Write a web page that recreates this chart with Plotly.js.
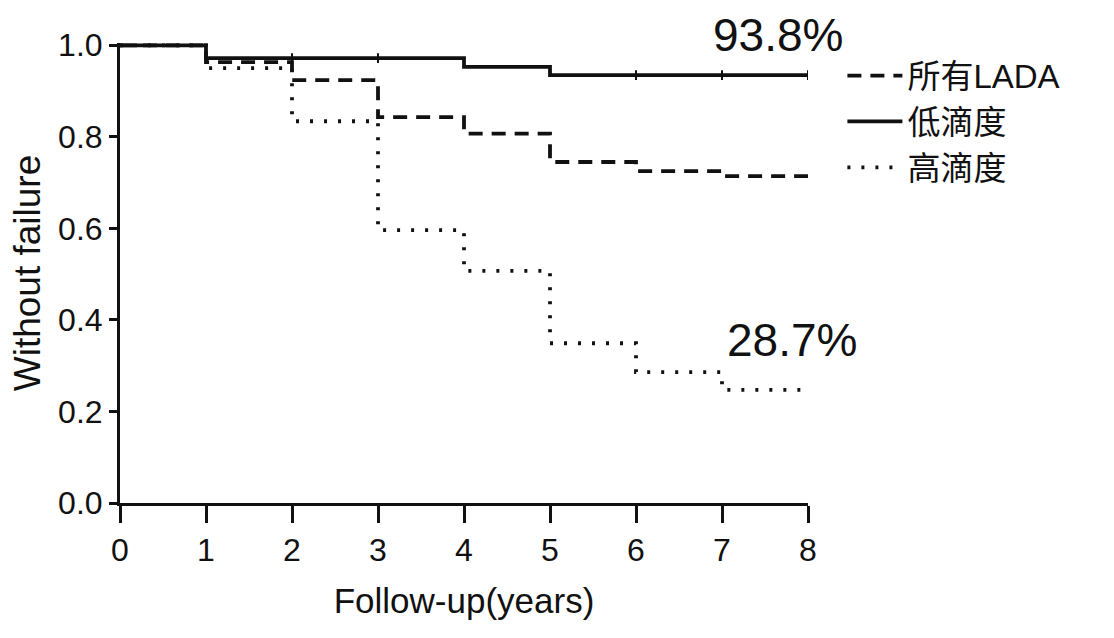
<!DOCTYPE html>
<html><head><meta charset="utf-8">
<script src="https://cdn.plot.ly/plotly-3.0.1.min.js"></script>
<style>body{margin:0;background:#fff}#c{width:1114px;height:638px}</style>
</head><body><div id="c"></div>
<script>
var years = [0, 1, 2, 3, 4, 5, 6, 7, 8];
var allLada = [1.0, 0.963, 0.924, 0.843, 0.807, 0.745, 0.725, 0.714, 0.714];
var lowTiter = [1.0, 0.972, 0.972, 0.972, 0.953, 0.935, 0.935, 0.935, 0.935];
var highTiter = [1.0, 0.950, 0.834, 0.596, 0.507, 0.349, 0.286, 0.247, 0.247];
var seriesNames = ["所有LADA", "低滴度", "高滴度"];
var lowCensor = [2, 3, 6, 7, 8];
var lowCensorVal = [0.972, 0.972, 0.935, 0.935, 0.935];
var labelText = ["93.8%", "28.7%"];
var xTicks = [0, 1, 2, 3, 4, 5, 6, 7, 8];
var yTicks = [0, 0.2, 0.4, 0.6, 0.8, 1.0];
var yTickText = ["0.0", "0.2", "0.4", "0.6", "0.8", "1.0"];

var latin = "Liberation Sans, Arial, sans-serif";
var traces = [
  {x: years, y: allLada, name: seriesNames[0], mode: "lines", line: {shape: "hv", color: "#111", width: 3.8, dash: "14px,9px"}},
  {x: years, y: lowTiter, name: seriesNames[1], mode: "lines", line: {shape: "hv", color: "#111", width: 3.8}},
  {x: years, y: highTiter, name: seriesNames[2], mode: "lines", line: {shape: "hv", color: "#111", width: 3.8, dash: "3px,11px"}},
  {x: lowCensor, y: lowCensorVal, mode: "markers", showlegend: false, hoverinfo: "skip",
   marker: {symbol: "line-ns", size: 7, line: {width: 2, color: "#111"}}}
];
var anns = [
  {x: 7.65, y: 1.017, xref: "x", yref: "paper", yanchor: "middle", xanchor: "center", text: labelText[0], showarrow: false,
   font: {family: latin, size: 46, color: "#111"}},
  {x: 7.81, y: 0.356, xref: "x", yref: "y", yanchor: "middle", xanchor: "center", text: labelText[1], showarrow: false,
   font: {family: latin, size: 46, color: "#111"}}
];
var layout = {
  width: 1114, height: 638,
  margin: {l: 120, r: 306, t: 43, b: 135},
  paper_bgcolor: "#fff", plot_bgcolor: "#fff",
  showlegend: true,
  legend: {x: 1.05, y: 0.99, xanchor: "left", yanchor: "top", itemwidth: 55,
    font: {family: "Liberation Sans, Noto Sans CJK SC, sans-serif", size: 33, color: "#111"}, bgcolor: "rgba(0,0,0,0)",
    tracegroupgap: 0},
  xaxis: {range: [0, 8], tickvals: xTicks, showgrid: false, zeroline: false,
    showline: true, linewidth: 3, linecolor: "#111", ticks: "outside", ticklen: 17, tickwidth: 3, tickcolor: "#111",
    tickfont: {family: latin, size: 32, color: "#111"},
    title: {text: "Follow-up(years)", font: {family: latin, size: 35, color: "#111"}, standoff: 22}},
  yaxis: {range: [0, 1.005], tickvals: yTicks, ticktext: yTickText, showgrid: false, zeroline: false,
    showline: true, linewidth: 3, linecolor: "#111", ticks: "outside", ticklen: 8, tickwidth: 3, tickcolor: "#111",
    tickfont: {family: latin, size: 32, color: "#111"},
    title: {text: "Without failure", font: {family: latin, size: 37, color: "#111"}, standoff: 7}},
  annotations: anns
};
Plotly.newPlot("c", traces, layout, {displayModeBar: false, staticPlot: true});
</script>
</body></html>
